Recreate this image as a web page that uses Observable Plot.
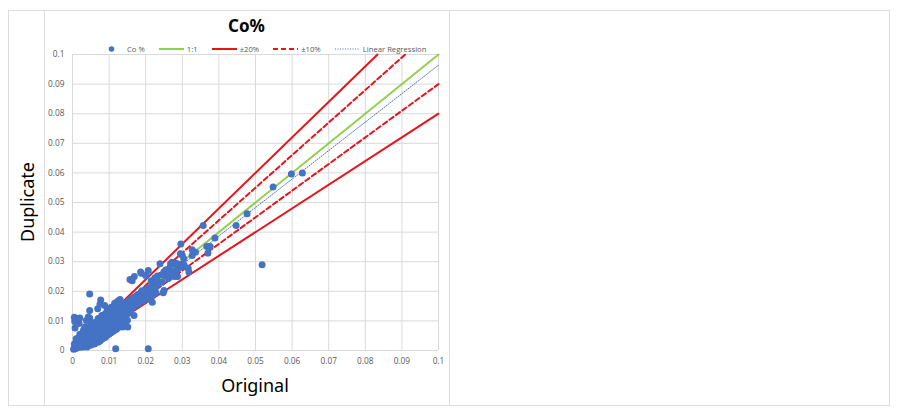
<!DOCTYPE html>
<html>
<head>
<meta charset="utf-8">
<script src="https://cdn.jsdelivr.net/npm/d3@7"></script>
<script src="https://cdn.jsdelivr.net/npm/@observablehq/plot@0.6"></script>
<style>
  html, body { margin:0; padding:0; background:#fff; }
  #page { position:relative; width:900px; height:415px; overflow:hidden; font-family:"Noto Sans","Open Sans",sans-serif; }
  .frame { position:absolute; left:8px; top:10px; width:880px; height:394px; border:1px solid #dcdcdc; }
  .divider { position:absolute; top:10px; width:1px; height:396px; background:#dcdcdc; }
  #chart { position:absolute; left:44px; top:10px; }
  #title { position:absolute; left:44px; width:405px; top:14px; text-align:center; font-weight:bold; font-size:17px; color:#000; }
  #xlabel { position:absolute; left:72px; width:366px; top:373px; text-align:center; font-size:18px; color:#000; }
  #ylabel { position:absolute; left:27px; top:202px; transform:translate(-50%,-50%) rotate(-90deg); font-size:18px; color:#000; white-space:nowrap; }
  #legend { position:absolute; left:99px; top:43px; height:12px; display:flex; align-items:center; font-family:"Open Sans",sans-serif; font-size:7.7px; color:#595959; }
  .item { display:flex; align-items:center; margin-right:14px; }
  .item svg { width:25px; height:12px; margin-right:3px; }
</style>
</head>
<body>
<div id="page">
  <div class="frame"></div>
  <div class="divider" style="left:44px"></div>
  <div class="divider" style="left:449px"></div>
  <div id="chart"></div>
  <div id="title">Co%</div>
  <div id="legend"></div>
  <div id="xlabel">Original</div>
  <div id="ylabel">Duplicate</div>
</div>
<script>
// ---------- data ----------
const tickValues = [0, 0.01, 0.02, 0.03, 0.04, 0.05, 0.06, 0.07, 0.08, 0.09, 0.1];
const tickLabels = ["0", "0.01", "0.02", "0.03", "0.04", "0.05", "0.06", "0.07", "0.08", "0.09", "0.1"];

// dense band of samples [original, duplicate]
const coreSamples = [
  [0.0003,0.0004],[0.0005,0.0012],[0.0008,0.0006],[0.001,0.0015],[0.0012,0.0009],[0.0014,0.0021],[0.0016,0.0013],[0.0018,0.0025],
  [0.002,0.0017],[0.0022,0.0011],[0.0024,0.0028],[0.0025,0.002],[0.0027,0.0034],[0.0028,0.0024],[0.003,0.0016],[0.0005,0.0022],
  [0.0009,0.0026],[0.0015,0.0031],
  [0.0031,0.0029],[0.0032,0.0038],[0.0034,0.0045],[0.0035,0.0032],[0.0036,0.0052],[0.0038,0.0026],[0.0039,0.0041],[0.004,0.0058],
  [0.0041,0.0035],[0.0042,0.0048],[0.0044,0.0062],[0.0045,0.004],[0.0046,0.0031],[0.0047,0.0053],[0.0048,0.0068],[0.005,0.0045],
  [0.0051,0.0058],[0.0052,0.0036],[0.0053,0.0072],[0.0054,0.005],[0.0056,0.0063],[0.0057,0.0042],[0.0058,0.0076],[0.0059,0.0055],
  [0.006,0.0068],[0.0061,0.0049],[0.0062,0.0082],[0.0063,0.0059],[0.0064,0.0073],[0.0065,0.0044],[0.0066,0.0087],[0.0067,0.0064],
  [0.0068,0.0054],[0.0069,0.0078],[0.007,0.0092],[0.0071,0.0069],[0.0072,0.0058],[0.0073,0.0084],[0.0074,0.0049],[0.0075,0.0097],
  [0.0076,0.0073],[0.0077,0.0063],[0.0078,0.0089],[0.0079,0.0102],[0.008,0.0078],[0.0081,0.0055],[0.0082,0.0094],[0.0083,0.0068],
  [0.0084,0.0108],[0.0085,0.0083],[0.0086,0.0061],[0.0087,0.0099],[0.0088,0.0074],[0.0089,0.0113],
  [0.009,0.0088],[0.0091,0.0066],[0.0092,0.0104],[0.0093,0.0079],[0.0094,0.0118],[0.0095,0.0093],[0.0096,0.0071],[0.0097,0.0109],
  [0.0098,0.0084],[0.0099,0.0125],[0.01,0.0099],[0.0101,0.0076],[0.0102,0.0114],[0.0103,0.0089],[0.0104,0.013],[0.0105,0.0104],
  [0.0106,0.0081],[0.0107,0.0119],[0.0108,0.0094],[0.0109,0.0136],[0.011,0.0109],[0.0111,0.0086],[0.0112,0.0124],[0.0113,0.0099],
  [0.0114,0.0141],[0.0115,0.0114],[0.0116,0.0091],[0.0117,0.0129],[0.0118,0.0104],[0.0119,0.0147],[0.0095,0.0135],[0.0105,0.0145],
  [0.0115,0.0152],
  [0.012,0.0119],[0.0121,0.0096],[0.0122,0.0134],[0.0123,0.0109],[0.0124,0.0152],[0.0125,0.0124],[0.0126,0.0101],[0.0127,0.0139],
  [0.0128,0.0114],[0.0129,0.0157],[0.013,0.0129],[0.0131,0.0106],[0.0132,0.0144],[0.0133,0.0119],[0.0134,0.0152],[0.0135,0.0134],
  [0.0136,0.0111],[0.0137,0.0149],[0.0138,0.0124],[0.0139,0.0155],[0.014,0.0139],[0.0141,0.0116],[0.0142,0.0154],[0.0143,0.0129],
  [0.0144,0.016],[0.0145,0.0144],[0.0146,0.0121],[0.0147,0.0159],[0.0148,0.0134],[0.0149,0.0163],
  [0.015,0.0149],[0.0151,0.0126],[0.0152,0.0164],[0.0153,0.0139],[0.0154,0.0168],[0.0155,0.0154],[0.0156,0.0131],[0.0157,0.0166],
  [0.0158,0.0144],[0.0159,0.0172],[0.016,0.0159],[0.0161,0.0143],[0.0162,0.0172],[0.0163,0.0151],[0.0164,0.0176],[0.0165,0.0164],
  [0.0166,0.0148],[0.0167,0.0177],[0.0168,0.0156],[0.0169,0.018],[0.017,0.0169],[0.0172,0.0153],[0.0174,0.0184],[0.0176,0.0162],
  [0.0178,0.0188],
  [0.018,0.0174],[0.0182,0.0161],[0.0184,0.0189],[0.0186,0.0168],[0.0188,0.0196],[0.019,0.0179],[0.0192,0.0168],[0.0194,0.0194],
  [0.0196,0.0174],[0.0198,0.0204],[0.02,0.0184],[0.0202,0.0175],[0.0204,0.0199],[0.0206,0.018],[0.0208,0.0212],[0.021,0.0189],
  [0.0212,0.0183],[0.0214,0.0204],[0.0216,0.0186],[0.0218,0.022],[0.022,0.0194],[0.0222,0.019],[0.0225,0.021],[0.0228,0.0195],
  [0.023,0.0225]
];

// upper and lower fringe of the dense band [original, duplicate]
const bandFringe = [
  [0.001,0.004],[0.002,0.0055],[0.003,0.0068],[0.004,0.0075],[0.005,0.0088],[0.006,0.0095],[0.007,0.0108],[0.008,0.0118],
  [0.009,0.0125],[0.0095,0.0128],[0.01,0.0138],[0.0105,0.0142],[0.011,0.0148],[0.0115,0.016],[0.012,0.0162],[0.0125,0.0168],
  [0.013,0.0172],
  [0.004,0.0012],[0.005,0.0018],[0.006,0.0022],[0.007,0.0028],[0.0075,0.0032],[0.008,0.0038],[0.0085,0.0042],[0.009,0.0045],
  [0.0095,0.0052],[0.01,0.0056],[0.0105,0.006],[0.011,0.0064],[0.0115,0.0068],[0.012,0.0072],[0.0125,0.0078],[0.013,0.0083],
  [0.0135,0.0088],[0.014,0.0092],[0.0145,0.0098],[0.015,0.0102],
  [0.002,0.0038],[0.003,0.0046],[0.004,0.0057],[0.005,0.0068],[0.006,0.0078],[0.007,0.009],[0.008,0.01],[0.009,0.0108],
  [0.01,0.012],[0.011,0.013],[0.012,0.0142],[0.013,0.015],[0.014,0.0155],[0.015,0.016],[0.016,0.017],[0.017,0.0178],
  [0.018,0.0186],[0.019,0.0202],
  [0.003,0.0012],[0.004,0.0024],[0.005,0.003],[0.006,0.0038],[0.007,0.0046],[0.008,0.0058],[0.009,0.0066],[0.01,0.0078],
  [0.011,0.0088],[0.012,0.0096],[0.013,0.0106],[0.014,0.0116],[0.015,0.0124],[0.016,0.0142],[0.017,0.015],[0.018,0.0158],
  [0.019,0.0166],[0.02,0.0172]
];

// scattered samples [original, duplicate]
const scatterSamples = [
  [0.0005,0.0112],[0.001,0.0108],[0.0015,0.0104],[0.002,0.011],[0.0006,0.0098],[0.0012,0.0094],[0.0007,0.0076],[0.0018,0.0091],
  [0.0047,0.0191],[0.0047,0.0135],[0.0038,0.0101],[0.0047,0.011],[0.0077,0.0171],[0.0075,0.0156],[0.0069,0.0141],[0.0088,0.0152],
  [0.0043,0.0113],[0.0034,0.0079],
  [0.0118,0.0006],[0.0207,0.0006],
  [0.0157,0.024],[0.0169,0.025],[0.0188,0.0261],[0.0207,0.027],[0.0239,0.0293],[0.0163,0.0236],[0.0186,0.0265],[0.02,0.0253],
  [0.025,0.0266],[0.0259,0.026],[0.0255,0.0252],[0.0245,0.0256],[0.0282,0.0256],[0.0278,0.0267],[0.0287,0.025],[0.0278,0.025],
  [0.0272,0.0298],[0.0281,0.0296],[0.0285,0.0293],[0.0293,0.0291],[0.0276,0.0291],[0.0268,0.0293],[0.0291,0.0286],[0.0305,0.0289],
  [0.0316,0.0278],[0.0318,0.0265],[0.03,0.0282],[0.0288,0.0276],
  [0.0296,0.036],[0.0295,0.0327],[0.03,0.0322],[0.0304,0.031],[0.0327,0.0321],[0.0336,0.0332],[0.0327,0.034],
  [0.0367,0.0351],[0.0376,0.0351],[0.037,0.0329],[0.0357,0.0422],[0.0389,0.038],[0.0447,0.0422],[0.0477,0.0462],[0.0518,0.029],
  [0.0548,0.0552],[0.0598,0.0596],[0.0628,0.06],
  [0.0245,0.0231],[0.0227,0.0214],[0.025,0.0203],[0.0215,0.0236],[0.0248,0.0195],[0.0217,0.0188],[0.0218,0.0163],[0.0168,0.0118],
  [0.0148,0.0101],[0.0137,0.0079],[0.0151,0.0079],[0.0086,0.0068],[0.007,0.0075],[0.0058,0.0062],[0.0022,0.0017],[0.0018,0.0045],
  [0.003,0.006],[0.0225,0.0245],[0.0235,0.0225],[0.0232,0.0252],[0.0262,0.0243],[0.0268,0.0258],[0.0265,0.0278],[0.0255,0.0272],
  [0.0229,0.0241]
];

// reference lines: y = slope * x
const guideNames  = ["±20%", "±20%", "±10%", "±10%", "1:1"];
const guideSlopes = [1.2, 0.8, 1.1, 0.9, 1.0];
const regressionSlope = 0.962;
const regressionIntercept = 0.0002;
const axisMax = 0.1;

// ---------- styles ----------
const dotColor = "#4472c4";
const guideStyle = {
  "1:1":  {stroke:"#92d050", dash:null, width:2},
  "±20%": {stroke:"#e8141b", dash:null, width:2},
  "±10%": {stroke:"#e8141b", dash:"5,3", width:2},
  "Linear Regression": {stroke:"#4472c4", dash:"1,1.5", width:1}
};

// ---------- build ----------
const samples = coreSamples.concat(bandFringe, scatterSamples).map(([o, d]) => ({o, d}));
const guideLines = guideSlopes.map((s, i) => ({
  name: guideNames[i],
  pts: [{x:0, y:0}, {x: Math.min(axisMax, axisMax / s), y: Math.min(axisMax, axisMax * s)}]
}));
const regPts = [{x:0, y:regressionIntercept}, {x:axisMax, y:regressionIntercept + regressionSlope * axisMax}];

const fmt = (d) => tickLabels[tickValues.indexOf(d)] ?? String(d);

const chart = Plot.plot({
  width: 405, height: 395,
  marginLeft: 28, marginRight: 11, marginTop: 44, marginBottom: 55,
  style: {fontFamily: "'Open Sans', sans-serif", fontSize: "8.3px", color: "#595959", background: "transparent", overflow: "visible"},
  x: {domain: [0, axisMax]},
  y: {domain: [0, axisMax]},
  marks: [
    Plot.gridX(tickValues, {stroke: "#d9d9d9", strokeOpacity: 1, strokeWidth: 1}),
    Plot.gridY(tickValues, {stroke: "#d9d9d9", strokeOpacity: 1, strokeWidth: 1}),
    Plot.axisX(tickValues, {tickSize: 0, tickPadding: 8, tickFormat: fmt, label: null, fill: "#595959"}),
    Plot.axisY(tickValues, {tickSize: 0, tickPadding: 8, tickFormat: fmt, label: null, fill: "#595959"}),
    Plot.line(regPts, {x: "x", y: "y", stroke: guideStyle["Linear Regression"].stroke, strokeWidth: 1, strokeDasharray: guideStyle["Linear Regression"].dash}),
    ...guideLines.map(g => Plot.line(g.pts, {
      x: "x", y: "y",
      stroke: guideStyle[g.name].stroke,
      strokeWidth: guideStyle[g.name].width,
      strokeDasharray: guideStyle[g.name].dash
    })),
    Plot.dot(samples, {x: "o", y: "d", r: 3.5, fill: dotColor, stroke: null})
  ]
});
document.getElementById("chart").appendChild(chart);

// ---------- legend ----------
const legendEntries = ["Co %", "1:1", "±20%", "±10%", "Linear Regression"];
const legend = document.getElementById("legend");
legendEntries.forEach((name) => {
  const item = document.createElement("div");
  item.className = "item";
  let sw;
  if (name === "Co %") {
    sw = `<svg viewBox="0 0 25 12"><circle cx="12.5" cy="6" r="2.8" fill="${dotColor}"/></svg>`;
  } else {
    const st = guideStyle[name];
    sw = `<svg viewBox="0 0 25 12"><line x1="0" x2="25" y1="6" y2="6" stroke="${st.stroke}" stroke-width="${st.width === 1 ? 1 : 2}" ${st.dash ? `stroke-dasharray="${st.dash}"` : ""}/></svg>`;
  }
  item.innerHTML = sw + `<span>${name}</span>`;
  legend.appendChild(item);
});
</script>
</body>
</html>
